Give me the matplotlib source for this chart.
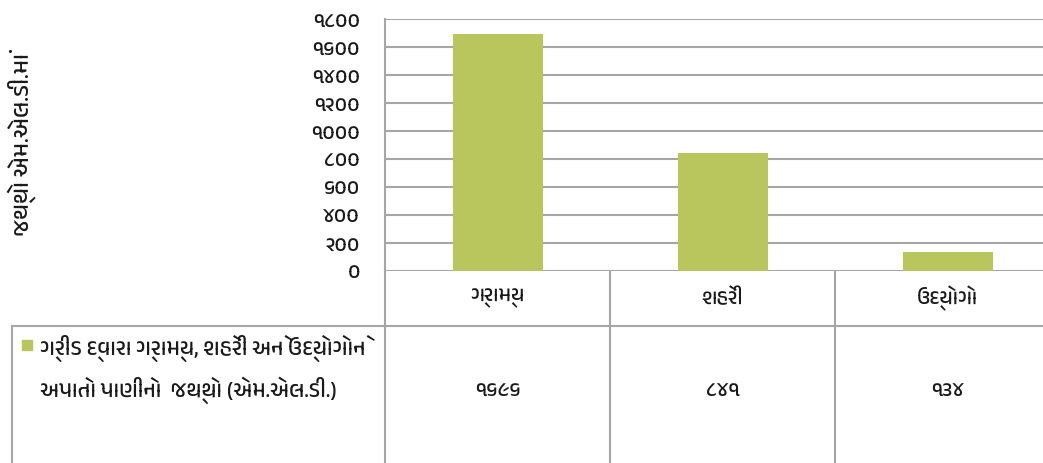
import matplotlib
matplotlib.use("Agg")
import matplotlib.pyplot as plt
from matplotlib import font_manager
from matplotlib.lines import Line2D
from matplotlib.patches import Rectangle

# data
categories = ["ગ્રામ્ય", "શહેરી", "ઉદ્યોગો"]
values = [1696, 841, 134]
y_ticks = [0, 200, 400, 600, 800, 1000, 1200, 1400, 1600, 1800]
y_label = "જથ્થો એમ.એલ.ડી.માં"
legend_lines = ["ગ્રીડ દ્વારા ગ્રામ્ય, શહેરી અને ઉદ્યોગોને",
                "અપાતો પાણીનો  જથ્થો (એમ.એલ.ડી.)"]

BAR = "#b9c65d"
GRID = "#a6a6a6"
TXT = "#1a1a1a"

# pick a gujarati font if the box has one
guj = sorted({f.name for f in font_manager.fontManager.ttflist
              if any(k in f.name for k in ("Gujarati", "Shruti", "Lohit", "Rekha", "Padmaa"))})
plt.rcParams['font.family'] = guj + ['DejaVu Sans']

GU_DIGITS = str.maketrans("0123456789", "૦૧૨૩૪૫૬૭૮૯")


def gu(n):
    return str(n).translate(GU_DIGITS)


W, H = 1043, 463
fig = plt.figure(figsize=(W / 100, H / 100), dpi=100)

# plot area in pixels (it runs past the right edge, like the source)
left, top, bottom, col_w = 385, 19, 271, 225
ax = fig.add_axes([left / W, 1 - bottom / H, 3 * col_w / W, (bottom - top) / H])

x = list(range(len(categories)))
ax.bar(x, values, width=0.4, color=BAR, zorder=3)
ax.set_xlim(-0.5, 2.5)
ax.set_ylim(0, 1800)
ax.set_yticks(y_ticks)
ax.set_yticklabels([gu(v) for v in y_ticks], fontsize=15, color=TXT)
ax.tick_params(axis='y', length=0, pad=18)
ax.set_xticks([])
ax.yaxis.grid(True, color=GRID, linewidth=1.5, zorder=0)
for s in ("top", "right", "bottom"):
    ax.spines[s].set_visible(False)
ax.spines["left"].set_color(GRID)
ax.spines["left"].set_linewidth(1.5)

# data table under the plot
ax_h = bottom - top
row1 = -(326 - bottom) / ax_h
low = -(H + 10 - bottom) / ax_h
xt = ax.get_xaxis_transform()
kw = dict(transform=xt, color=GRID, linewidth=1.5, clip_on=False)
ax.add_line(Line2D([-0.5, -0.5], [0, low], **kw))
for xb in (0.5, 1.5, 2.5):
    ax.add_line(Line2D([xb, xb], [0, low], **kw))
ax.add_line(Line2D([-0.5, 2.5], [row1, row1], **kw))

cat_y = -(298 - bottom) / ax_h
val_y = -(390 - bottom) / ax_h
for xi, c, v in zip(x, categories, values):
    ax.text(xi, cat_y, c, transform=xt, ha="center", va="center", fontsize=15, color=TXT)
    ax.text(xi, val_y, gu(v), transform=xt, ha="center", va="center", fontsize=15, color=TXT)

# legend cell
fig.add_artist(Line2D([12 / W, left / W], [1 - 326 / H] * 2, color=GRID, linewidth=1.5))
fig.add_artist(Line2D([12 / W, 12 / W], [1 - 326 / H, 0], color=GRID, linewidth=1.5))
fig.add_artist(Rectangle((22 / W, 1 - 350 / H), 10 / W, 10 / H, color=BAR,
                         transform=fig.transFigure))
fig.text(40 / W, 1 - 348 / H, legend_lines[0], ha="left", va="center", fontsize=16, color=TXT)
fig.text(40 / W, 1 - 390 / H, legend_lines[1], ha="left", va="center", fontsize=16, color=TXT)

fig.text(22 / W, 1 - 145 / H, y_label, rotation=90, ha="center", va="center",
         fontsize=17, fontweight="bold", color=TXT)

fig.savefig("out.png", dpi=100)
